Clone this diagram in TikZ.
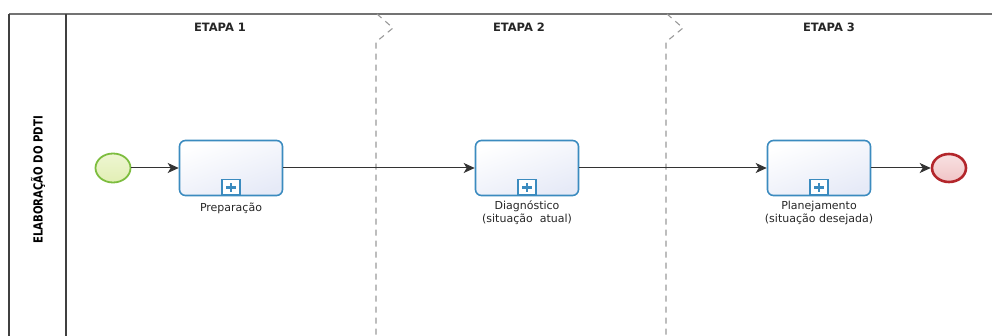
\documentclass[tikz,border=0pt]{standalone}
\usepackage{fontspec}
\setmainfont{DejaVu Sans}
\newfontfamily\condfont{DejaVu Sans Condensed}
\usetikzlibrary{arrows.meta,shapes.geometric}

\definecolor{taskblue}{HTML}{3B8BBF}
\definecolor{taskfill}{HTML}{E6EAF7}
\definecolor{startgreen}{HTML}{7DBD3F}
\definecolor{startfill}{HTML}{E2EFB4}
\definecolor{endred}{HTML}{B3262B}
\definecolor{endfill}{HTML}{F1C4C6}
\definecolor{flowgray}{HTML}{333333}
\definecolor{sepgray}{HTML}{9A9A9A}

\tikzset{
  taskbox/.style={draw=taskblue, line width=1.6pt, rounded corners=6pt,
    minimum width=103pt, minimum height=55pt, inner sep=0pt,
    top color=white, bottom color=taskfill, shading angle=20},
  submarker/.style={draw=taskblue, line width=1.3pt, fill=white,
    minimum width=18pt, minimum height=15pt, inner sep=0pt, anchor=south},
  startev/.style={ellipse, draw=startgreen, line width=1.8pt,
    minimum width=35pt, minimum height=29pt, inner sep=0pt,
    top color=white!40!startfill, bottom color=startfill},
  endev/.style={ellipse, draw=endred, line width=2.6pt,
    minimum width=34pt, minimum height=28pt, inner sep=0pt,
    top color=white!50!endfill, bottom color=endfill},
  flow/.style={draw=flowgray, line width=1pt, -{Stealth[length=11pt,width=10pt,inset=3pt]}},
  separator/.style={draw=sepgray, line width=1.1pt, dash pattern=on 6pt off 5pt},
  lanelabel/.style={font=\fontsize{11}{12.5}\selectfont, align=center, text=black!85, inner sep=0pt},
  stagetitle/.style={font=\bfseries\fontsize{11.5}{13}\selectfont, text=black!85, inner sep=0pt}
}

\newcommand{\plusmark}[1]{%
  \draw[taskblue, line width=2.6pt] ([xshift=-5pt]#1.center) -- ([xshift=5pt]#1.center);
  \draw[taskblue, line width=2.6pt] ([yshift=-4.5pt]#1.center) -- ([yshift=4.5pt]#1.center);
}

\begin{document}
\begin{tikzpicture}[x=1pt,y=-1pt]
  \useasboundingbox (0,0) rectangle (992,336);

  % pool frame
  \draw[black!55, line width=1.4pt] (9,14) -- (992,14);
  \draw[black!75, line width=1.2pt] (9,14) -- (9,336);
  \draw[black!75, line width=1.2pt] (66,14) -- (66,336);

  % pool name
  \node[rotate=90, font=\condfont\bfseries\fontsize{12.5}{13}\selectfont, inner sep=0pt]
    (pool) at (38,180) {\scalebox{0.9}[1]{ELABORAÇÃO DO PDTI}};

  % stage separators
  \draw[separator] (377,14) -- (393,28) -- (376,42) -- (376,336);
  \draw[separator] (667,14) -- (683,28) -- (666,42) -- (666,336);

  % stage titles
  \node[stagetitle] (s1) at (220,27) {ETAPA 1};
  \node[stagetitle] (s2) at (519,27) {ETAPA 2};
  \node[stagetitle] (s3) at (829,27) {ETAPA 3};

  % events and sub-processes
  \node[startev] (start) at (113,168) {};
  \node[taskbox] (t1) at (231,168) {};
  \node[taskbox] (t2) at (527,168) {};
  \node[taskbox] (t3) at (819,168) {};
  \node[endev] (finish) at (949,168) {};

  \node[submarker] (m1) at ([yshift=0.8pt]t1.south) {};
  \node[submarker] (m2) at ([yshift=0.8pt]t2.south) {};
  \node[submarker] (m3) at ([yshift=0.8pt]t3.south) {};
  \plusmark{m1}
  \plusmark{m2}
  \plusmark{m3}

  % labels
  \node[lanelabel, anchor=north] (l1) at (231,203) {Preparação};
  \node[lanelabel, anchor=north] (l2) at (527,201) {Diagnóstico\\(situação \ atual)};
  \node[lanelabel, anchor=north] (l3) at (819,201) {Planejamento\\(situação desejada)};

  % sequence flows
  \draw[flow] (start) -- (t1);
  \draw[flow] (t1) -- (t2);
  \draw[flow] (t2) -- (t3);
  \draw[flow] (t3) -- (finish);
\end{tikzpicture}
\end{document}
